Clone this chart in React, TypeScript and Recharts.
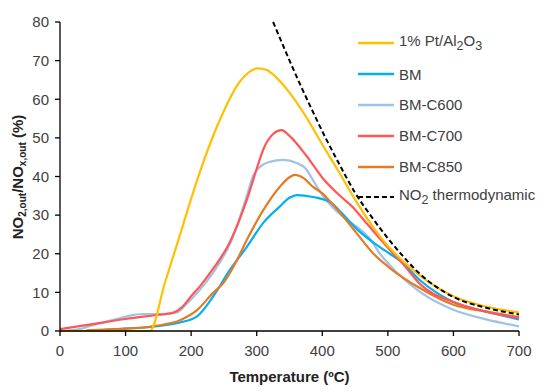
import React from "react";
import { LineChart, Line, XAxis, YAxis } from "recharts";

// [temperature (ºC), NO2/NOx (%)]
const ptAl2O3: [number, number][] = [
  [0, 0], [60, 0], [110, 0], [137, 0], [160, 12.5], [185, 26], [210, 39.5], [230, 49],
  [250, 57], [270, 63.5], [290, 67.2], [302, 68], [315, 67.6], [330, 65.6], [350, 61.7],
  [375, 55.5], [400, 48.3], [425, 41.3], [450, 34], [475, 27.5], [500, 22], [525, 17.8],
  [550, 14.2], [600, 9], [650, 6.3], [700, 4.8],
];
const bm: [number, number][] = [
  [0, 0], [40, 0], [60, 0.2], [100, 0.6], [152, 1.3], [183, 2.2], [209, 3.8], [233, 8.8],
  [259, 15.8], [285, 21.8], [310, 28], [335, 32.2], [350, 34.5], [361, 35.2], [386, 34.7],
  [412, 33.4], [427, 31], [452, 26.5], [477, 23], [503, 20], [520, 18], [550, 13],
  [600, 7.5], [650, 5], [700, 3],
];
const bmC600: [number, number][] = [
  [0, 0], [30, 0.5], [50, 1.5], [80, 2.8], [102, 3.8], [125, 4.4], [152, 4.4], [178, 4.8],
  [190, 6.5], [210, 10], [233, 15], [259, 22.5], [285, 35], [294, 40], [305, 42.5],
  [320, 43.8], [340, 44.3], [361, 43.5], [375, 42], [386, 39], [401, 35], [416, 32],
  [440, 28.5], [460, 26], [472, 24], [488, 20], [503, 17], [550, 10], [600, 5.5],
  [650, 3], [700, 1.2],
];
const bmC700: [number, number][] = [
  [0, 0.5], [50, 1.8], [100, 3.1], [150, 4.2], [172, 4.7], [185, 6], [200, 9], [213, 11.5],
  [233, 16], [259, 23], [285, 34], [300, 42], [310, 47], [325, 51], [338, 52], [350, 50.5],
  [376, 45.3], [401, 39.5], [427, 35], [447, 32], [462, 29], [477, 26], [503, 21], [520, 18],
  [550, 12], [600, 7.5], [650, 5], [700, 3.4],
];
const bmC850: [number, number][] = [
  [40, 0.2], [100, 0.6], [152, 1.5], [183, 2.8], [209, 5.4], [233, 9.8], [249, 12.4],
  [270, 18.4], [285, 23.6], [310, 31.3], [335, 37.3], [350, 39.8], [358, 40.4], [372, 39.5],
  [386, 37.3], [401, 35.5], [412, 33.5], [430, 30], [452, 25.4], [477, 20.2], [503, 16.3],
  [550, 11], [600, 6.8], [650, 5], [700, 3.6],
];
const no2Thermo: [number, number][] = [
  [325, 80], [345, 72], [365, 64.3], [385, 57], [405, 50], [425, 43.5], [450, 35.8],
  [475, 29.6], [500, 24], [525, 19], [550, 14.6], [575, 11.3], [600, 8.8], [650, 6],
  [700, 4.3],
];

const xTicks = [0, 100, 200, 300, 400, 500, 600, 700];
const yTicks = [0, 10, 20, 30, 40, 50, 60, 70, 80];

const pts = (a: [number, number][]) => a.map(([t, v]) => ({ t, v }));

const FONT = "'Liberation Sans', Arial, sans-serif";
const TEXT = "#404040";

const legendRows = [
  { key: "pt", color: "#FFC000", dash: false, label: <>1% Pt/Al<sub>2</sub>O<sub>3</sub></> },
  { key: "bm", color: "#00B0F0", dash: false, label: <>BM</> },
  { key: "c600", color: "#9DC3E6", dash: false, label: <>BM-C600</> },
  { key: "c700", color: "#FF5757", dash: false, label: <>BM-C700</> },
  { key: "c850", color: "#E57A25", dash: false, label: <>BM-C850</> },
  { key: "thermo", color: "#000", dash: true, label: <>NO<sub>2</sub> thermodynamic</> },
];

function LegendBox() {
  return (
    <div style={{ position: "absolute", top: 20, left: 349, fontFamily: FONT, fontSize: 15, color: TEXT }}>
      {legendRows.map((r) => (
        <div key={r.key} style={{ height: 30.8, display: "flex", alignItems: "center" }}>
          <svg width={38} height={6} style={{ marginRight: 4 }}>
            <line x1={1} y1={3} x2={37} y2={3} stroke={r.color} strokeWidth={r.dash ? 2 : 2.5}
              strokeDasharray={r.dash ? "5 3" : undefined} />
          </svg>
          <span style={{ whiteSpace: "nowrap", lineHeight: "15px" }}>{r.label}</span>
        </div>
      ))}
    </div>
  );
}

function YLabel() {
  const x = 15, y = 169;
  return (
    <text x={x} y={y} transform={`rotate(-90, ${x}, ${y})`} textAnchor="middle"
      fontFamily={FONT} fontSize={15} fontWeight="bold" fill="#222">
      NO<tspan fontSize={10} dy={3}>2,out</tspan>
      <tspan dy={-3}>/NO</tspan>
      <tspan fontSize={10} dy={3}>x,out</tspan>
      <tspan dy={-3}> (%)</tspan>
    </text>
  );
}

export default function App() {
  const tick = { fontFamily: FONT, fontSize: 15, fill: TEXT };
  return (
    <div style={{ fontFamily: FONT, position: "relative", width: 542, height: 384 }}>
      <LineChart width={542} height={384} margin={{ top: 14, right: 31, bottom: 0, left: 0 }}>
        <XAxis type="number" dataKey="t" domain={[0, 700]} ticks={xTicks} tick={tick}
          tickSize={5} tickMargin={9} height={61} stroke="#000" strokeWidth={1.3}
          label={{ value: "Temperature (ºC)", position: "insideBottom", offset: 10,
            style: { fontFamily: FONT, fontSize: 15, fontWeight: "bold", fill: "#222" } }} />
        <YAxis type="number" domain={[0, 80]} ticks={yTicks} tick={tick} width={52}
          tickSize={5} tickMargin={6} stroke="#000" strokeWidth={1.3} label={<YLabel />} />
        <Line data={pts(bmC600)} dataKey="v" type="monotone" stroke="#9DC3E6" strokeWidth={2.2}
          dot={false} isAnimationActive={false} />
        <Line data={pts(bm)} dataKey="v" type="monotone" stroke="#00B0F0" strokeWidth={2.2}
          dot={false} isAnimationActive={false} />
        <Line data={pts(bmC850)} dataKey="v" type="monotone" stroke="#E57A25" strokeWidth={2.2}
          dot={false} isAnimationActive={false} />
        <Line data={pts(bmC700)} dataKey="v" type="monotone" stroke="#FF5757" strokeWidth={2.2}
          dot={false} isAnimationActive={false} />
        <Line data={pts(ptAl2O3)} dataKey="v" type="monotone" stroke="#FFC000" strokeWidth={2.2}
          dot={false} isAnimationActive={false} />
        <Line data={pts(no2Thermo)} dataKey="v" type="monotone" stroke="#000" strokeWidth={2}
          strokeDasharray="5 3" dot={false} isAnimationActive={false} />
      </LineChart>
      <LegendBox />
    </div>
  );
}
